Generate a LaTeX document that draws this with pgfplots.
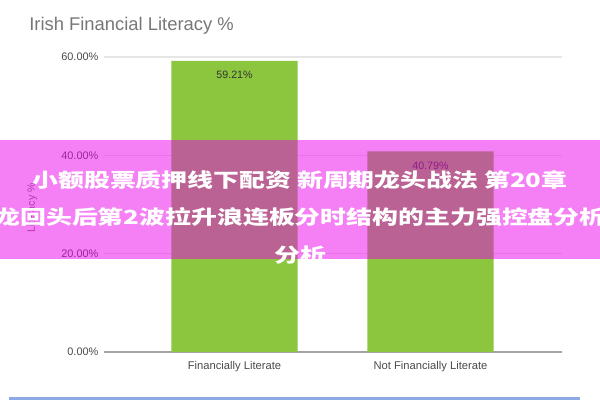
\documentclass[border=0pt]{standalone}
\usepackage{pgfplots}
\pgfplotsset{compat=1.18}
\usepackage{fontspec}
\setmainfont{Liberation Sans}
\newfontfamily\cjk{Noto Sans CJK SC}
\definecolor{bargreen}{HTML}{8CC63E}
\definecolor{gridgrey}{HTML}{E6E6E6}
\definecolor{basegrey}{HTML}{A3A3A3}
\definecolor{titlegrey}{HTML}{777777}
\definecolor{labgrey}{HTML}{4A4A4A}
\definecolor{bandpink}{RGB}{235,0,235}
\definecolor{edgeblue}{HTML}{8FA8E6}
\begin{document}
\begin{tikzpicture}
\useasboundingbox (0,0) rectangle (450pt,300pt);
\clip (0,0) rectangle (450pt,300pt);
\begin{axis}[
  at={(78pt,36pt)}, anchor=south west,
  scale only axis, width=343.5pt, height=221.25pt,
  xmin=-0.666, xmax=1.671, ymin=0, ymax=60,
  axis line style={draw=none},
  major tick length=0pt,
  xtick={0,1},
  xticklabels={Financially Literate, Not Financially Literate},
  xticklabel style={font=\fontsize{8.4pt}{10pt}\selectfont, text=labgrey, inner sep=0pt, yshift=-7pt},
  ytick={20,40,60},
  yticklabels={20.00\%,40.00\%,60.00\%},
  extra y ticks={0},
  extra y tick labels={0.00\%},
  extra y tick style={grid style={color=basegrey, line width=1.1pt}},
  yticklabel style={font=\fontsize{8.2pt}{10pt}\selectfont, text=labgrey, inner sep=0pt, xshift=-4pt},
  ymajorgrids,
  grid style={color=gridgrey, line width=1.1pt},
  axis on top=false,
  /pgf/number format/assume math mode=true,
]
\addplot[ybar, bar width=0.645, fill=bargreen, draw=none,
  nodes near coords={\pgfmathprintnumber[fixed, fixed zerofill, precision=2]{\pgfplotspointmeta}\%},
  every node near coord/.append style={font=\fontsize{8pt}{10pt}\selectfont, text=black!80, anchor=center, inner sep=0pt, yshift=-10.5pt}]
  coordinates {(0,59.21) (1,40.79)};
\end{axis}
\node[anchor=base west, inner sep=0pt, text=titlegrey, font=\fontsize{13.8pt}{16pt}\selectfont] at (21.75pt,277.1pt) {Irish Financial Literacy \%};
\node[rotate=90, inner sep=0pt, text=titlegrey, font=\fontsize{8pt}{10pt}\selectfont] at (24pt,144pt) {Literacy \%};
\fill[edgeblue] (6.75pt,0pt) rectangle (435pt,2.6pt);
\fill[bandpink, opacity=0.5] (0pt,105.75pt) rectangle (450pt,195pt);
\begin{scope}[every node/.style={anchor=base, inner sep=0pt, text=white, font=\cjk\bfseries\fontsize{14.6pt}{17pt}\selectfont, xscale=1.33}]
\node at (225pt,159pt) {小额股票质押线下配资 新周期龙头战法 第20章};
\node at (225pt,131.25pt) {龙回头后第2波拉升浪连板分时结构的主力强控盘分析};
\node at (225pt,102.75pt) {分析};
\end{scope}
\end{tikzpicture}
\end{document}
